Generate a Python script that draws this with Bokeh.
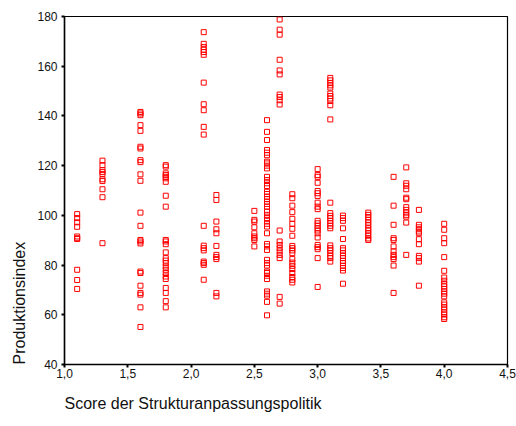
from bokeh.plotting import figure
from bokeh.models import FixedTicker, Title, ColumnDataSource
from bokeh.embed import file_html
from bokeh.resources import INLINE

# Score der Strukturanpassungspolitik (x) and Produktionsindex values per score
score_levels = [1.1, 1.3, 1.6, 1.8, 2.1, 2.2, 2.5, 2.6, 2.7, 2.8, 3.0, 3.1, 3.2, 3.4, 3.6, 3.7, 3.8, 4.0]

prod_1_1 = [100.5, 98.9, 97.2, 95.4, 91.5, 90.8, 90.5, 78.1, 74.0, 70.4]
prod_1_3 = [122.0, 120.2, 118.2, 117.4, 116.6, 114.5, 113.8, 110.5, 107.3, 88.8]
prod_1_6 = [141.6, 141.0, 140.3, 136.3, 134.0, 127.6, 126.9, 122.2, 121.4, 116.5, 113.9, 101.1,
            95.8, 90.1, 89.5, 88.7, 77.4, 76.8, 71.7, 68.8, 68.1, 63.0, 55.1]
prod_1_8 = [120.2, 119.6, 116.9, 116.2, 115.5, 114.9, 113.5, 107.9, 103.5, 90.1, 89.5, 88.4,
            85.1, 82.8, 81.8, 80.8, 79.4, 78.1, 76.8, 75.4, 74.4, 70.8, 68.8, 65.5, 63.0]
prod_2_1 = [173.7, 169.0, 167.7, 166.6, 165.7, 164.6, 153.4, 144.7, 142.3, 135.6, 132.5, 95.8,
            87.8, 86.8, 85.9, 81.4, 80.8, 80.1, 74.1]
prod_2_2 = [108.2, 106.2, 97.5, 94.4, 92.8, 87.7, 84.1, 83.2, 82.4, 68.8, 67.4]
prod_2_5 = [101.8, 98.2, 97.5, 95.2, 92.8, 91.5, 90.8, 90.1, 87.5]
prod_2_6 = [138.3, 133.6, 130.3, 126.3, 125.2, 124.2, 121.6, 120.9, 120.0, 118.9, 115.5, 114.2,
            112.9, 111.8, 109.5, 108.6, 107.5, 106.5, 105.5, 104.6, 103.5, 101.5, 100.2, 98.9,
            97.8, 96.6, 95.5, 92.8, 88.5, 87.5, 86.1, 82.1, 80.8, 79.8, 77.4, 76.8, 75.7, 74.4,
            69.4, 68.5, 67.7, 65.2, 59.8]
prod_2_7 = [178.8, 174.7, 172.7, 162.6, 158.3, 156.7, 148.6, 147.6, 146.3, 144.6, 93.9, 89.5,
            88.1, 86.8, 85.5, 84.1, 82.8, 67.2, 64.5]
prod_2_8 = [108.5, 106.9, 103.9, 101.3, 98.6, 96.6, 94.6, 91.8, 87.7, 86.8, 85.9, 84.8, 82.4,
            81.0, 79.7, 78.4, 76.8, 75.2, 74.1, 73.0]
prod_3_0 = [118.6, 116.2, 115.5, 113.1, 109.8, 108.9, 107.8, 105.1, 103.5, 102.5, 97.8, 96.8,
            95.8, 94.8, 93.9, 92.8, 91.1, 88.1, 87.2, 86.4, 82.8, 71.2]
prod_3_1 = [155.3, 154.3, 153.2, 152.3, 151.4, 149.0, 148.0, 147.0, 146.0, 144.3, 138.6, 105.1,
            100.9, 99.8, 98.9, 97.8, 96.8, 95.8, 94.8, 87.9, 86.8, 85.9, 84.8, 83.7, 82.8, 81.4]
prod_3_2 = [99.9, 98.9, 97.8, 94.8, 90.5, 86.8, 85.9, 84.8, 83.7, 82.8, 81.7, 80.8, 79.7, 78.8,
            77.8, 72.5]
prod_3_4 = [101.1, 100.2, 99.3, 98.2, 97.1, 96.0, 94.8, 93.9, 92.8, 91.8, 90.7, 90.1]
prod_3_6 = [115.5, 103.9, 96.2, 90.8, 90.1, 87.5, 85.5, 84.1, 83.2, 82.4, 79.8, 68.8]
prod_3_7 = [119.3, 112.9, 111.9, 110.5, 107.1, 106.5, 103.3, 102.2, 101.1, 100.2, 99.5, 97.1, 84.1]
prod_3_8 = [102.2, 96.2, 95.2, 94.4, 93.5, 92.8, 90.4, 88.4, 83.7, 82.8, 81.4, 71.7]
prod_4_0 = [96.6, 94.2, 90.8, 88.8, 83.2, 77.7, 75.0, 73.7, 72.4, 71.4, 70.4, 69.4, 68.5, 67.4,
            65.0, 64.1, 63.0, 62.1, 61.0, 60.1, 59.0, 58.3]

x_ticks = [1.0, 1.5, 2.0, 2.5, 3.0, 3.5, 4.0, 4.5]
x_tick_labels = ["1,0", "1,5", "2,0", "2,5", "3,0", "3,5", "4,0", "4,5"]
y_ticks = [40, 60, 80, 100, 120, 140, 160, 180]

groups = [prod_1_1, prod_1_3, prod_1_6, prod_1_8, prod_2_1, prod_2_2, prod_2_5, prod_2_6,
          prod_2_7, prod_2_8, prod_3_0, prod_3_1, prod_3_2, prod_3_4, prod_3_6, prod_3_7,
          prod_3_8, prod_4_0]

xs, ys = [], []
for sx, vals in zip(score_levels, groups):
    for v in vals:
        xs.append(sx)
        ys.append(v)

src = ColumnDataSource(data=dict(x=xs, y=ys))

FONT = "Liberation Sans"

p = figure(width=516, height=426, x_range=(1.0, 4.5), y_range=(40, 180),
           output_backend="svg", toolbar_location=None,
           min_border_left=64, min_border_right=9, min_border_top=16, min_border_bottom=62)

p.scatter("x", "y", source=src, marker="square", size=5, fill_color=None,
          line_color="#ff0000", line_width=1)

p.grid.visible = False
p.outline_line_color = "black"
p.outline_line_width = 1.2
p.background_fill_color = "white"
p.border_fill_color = "white"

p.xaxis.ticker = FixedTicker(ticks=x_ticks)
p.xaxis.major_label_overrides = {t: l for t, l in zip(x_ticks, x_tick_labels)}
p.yaxis.ticker = FixedTicker(ticks=y_ticks)

for ax in (p.xaxis, p.yaxis):
    ax.axis_line_color = "black"
    ax.axis_line_width = 1.5
    ax.major_tick_line_color = "black"
    ax.major_tick_line_width = 2
    ax.major_tick_out = 3
    ax.major_tick_in = 0
    ax.minor_tick_line_color = None
    ax.major_label_text_font = FONT
    ax.major_label_text_font_size = "12px"
    ax.major_label_text_color = "#111111"

p.xaxis.major_label_standoff = 1
p.yaxis.major_label_standoff = 4

p.add_layout(Title(text="Score der Strukturanpassungspolitik", align="left",
                   text_font=FONT, text_font_size="16px", text_font_style="normal",
                   text_color="#111111", standoff=24), "below")
p.add_layout(Title(text="Produktionsindex", align="left",
                   text_font=FONT, text_font_size="16px", text_font_style="normal",
                   text_color="#111111", standoff=14), "left")

open("out.html", "w").write(file_html(p, INLINE))
